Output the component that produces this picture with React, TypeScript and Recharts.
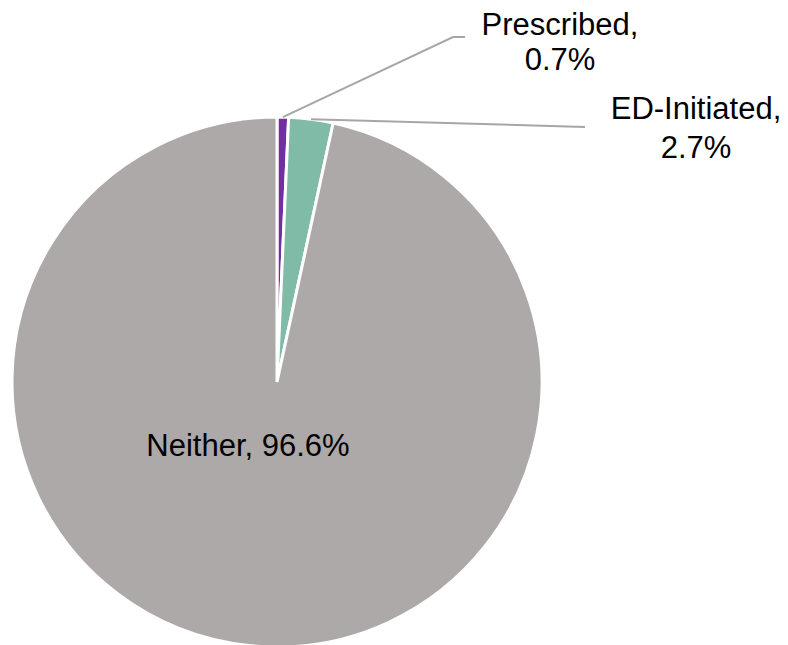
import React from 'react';
import { Cell, Pie, PieChart } from 'recharts';

const categories = ['Prescribed', 'ED-Initiated', 'Neither'];
const shares = [0.7, 2.7, 96.6];
const colors = ['#7030A0', '#80BBA8', '#ADA9A8'];

const data = categories.map((name, i) => ({ name, value: shares[i] }));

const FONT = '"Liberation Sans", Arial, sans-serif';
const FS = 31;
const RAD = Math.PI / 180;

// outside labels with elbow leader lines, Excel-style
function renderLabel(props: any) {
  const { cx, cy, midAngle, outerRadius, name, value } = props;
  const pct = `${Number(value).toFixed(1)}%`;
  const sx = cx + outerRadius * Math.cos(-midAngle * RAD);
  const sy = cy + outerRadius * Math.sin(-midAngle * RAD);

  if (name === 'Neither') {
    return (
      <text x={cx - 29} y={cy + 74} textAnchor="middle" fill="#000" fontSize={FS} fontFamily={FONT}>
        {`${name}, ${pct}`}
      </text>
    );
  }

  if (name === 'Prescribed') {
    const ex = cx + 176;
    const ey = cy - 345;
    return (
      <g>
        <polyline
          points={`${sx},${sy} ${ex},${ey} ${ex + 12},${ey}`}
          fill="none"
          stroke="#A6A6A6"
          strokeWidth={2}
        />
        <text x={cx + 283} y={cy - 347} textAnchor="middle" fill="#000" fontSize={FS} fontFamily={FONT}>
          <tspan x={cx + 283}>{`${name},`}</tspan>
          <tspan x={cx + 283} dy={35}>{pct}</tspan>
        </text>
      </g>
    );
  }

  const ex = cx + 308;
  const ey = cy - 255;
  return (
    <g>
      <polyline points={`${sx},${sy} ${ex},${ey}`} fill="none" stroke="#A6A6A6" strokeWidth={2} />
      <text x={cx + 419} y={cy - 263} textAnchor="middle" fill="#000" fontSize={FS} fontFamily={FONT}>
        <tspan x={cx + 419}>{`${name},`}</tspan>
        <tspan x={cx + 419} dy={39}>{pct}</tspan>
      </text>
    </g>
  );
}

export default function App() {
  return (
    <div style={{ position: 'absolute', left: 0, top: 0, width: 788, height: 645, background: '#fff' }}>
      <PieChart width={788} height={645} margin={{ top: 0, right: 0, bottom: 0, left: 0 }}>
        <Pie
          data={data}
          dataKey="value"
          nameKey="name"
          cx={277}
          cy={382}
          outerRadius={265}
          startAngle={90}
          endAngle={-270}
          stroke="#fff"
          strokeWidth={3}
          label={renderLabel}
          labelLine={false}
          isAnimationActive={false}
        >
          {data.map((d, i) => (
            <Cell key={d.name} fill={colors[i]} />
          ))}
        </Pie>
      </PieChart>
    </div>
  );
}
